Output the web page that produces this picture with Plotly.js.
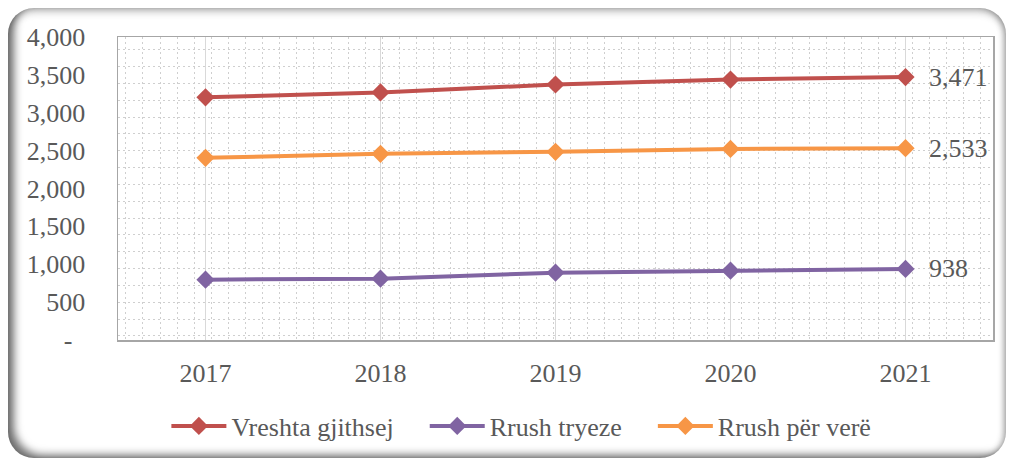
<!DOCTYPE html>
<html>
<head>
<meta charset="utf-8">
<script src="https://cdn.plot.ly/plotly-3.0.1.min.js"></script>
<style>
  html, body { margin: 0; padding: 0; background: #fff; }
  #wrap { position: relative; width: 1012px; height: 462px; overflow: hidden; }
  #frame {
    position: absolute; left: 8px; top: 8px; width: 998px; height: 450px;
    border-radius: 26px; background: #fff;
    box-shadow: inset 9px -6px 9px -3px rgba(0,0,0,0.55), inset 0 5px 8px -2px rgba(0,0,0,0.3), inset -4px 0 6px -2px rgba(0,0,0,0.3);
  }
  #plot { position: absolute; left: 0; top: 0; width: 1012px; height: 462px; }
</style>
</head>
<body>
<div id="wrap">
  <div id="frame"></div>
  <div id="plot"></div>
</div>
<script>
const years = ['2017', '2018', '2019', '2020', '2021']
const vreshta = [3203, 3268, 3373, 3438, 3471]
const rrushTryeze = [797, 810, 889, 915, 938]
const rrushVere = [2405, 2458, 2484, 2523, 2533]
const yTicks = [0, 500, 1000, 1500, 2000, 2500, 3000, 3500, 4000]
const yTickText = ['-\u00a0\u00a0', '500', '1,000', '1,500', '2,000', '2,500', '3,000', '3,500', '4,000']

const textColor = '#595959'
const serif = 'Liberation Serif'
const pad = '\u00a0\u00a0\u00a0\u00a0' // extra room between legend entries

const series = (name, values, color) => ({
  x: years,
  y: values,
  name,
  type: 'scatter',
  mode: 'lines+markers',
  line: {color, width: 4},
  marker: {symbol: 'diamond', size: 14, color},
  hoverinfo: 'none',
})

// empty trace so the dotted pattern axes get drawn
const patternTrace = {x: [], y: [], xaxis: 'x2', yaxis: 'y2', showlegend: false, hoverinfo: 'none'}

// category axis: annotations take the category index
const lastLabel = values => ({
  x: years.length - 1,
  y: values[values.length - 1],
  xref: 'x',
  yref: 'y',
  text: String(values[values.length - 1]).replace(/\B(?=(\d{3})+$)/, ','),
  showarrow: false,
  xanchor: 'left',
  xshift: 21,
  font: {family: serif, size: 26, color: textColor},
})

const vizData = [
  patternTrace,
  series('Vreshta gjithsej' + pad, vreshta, '#C0504D'),
  series('Rrush tryeze' + pad, rrushTryeze, '#8064A2'),
  series('Rrush për verë', rrushVere, '#F79646'),
]

const layout = {
  width: 1012,
  height: 462,
  margin: {l: 118, r: 19, t: 37, b: 119},
  paper_bgcolor: 'rgba(0,0,0,0)',
  plot_bgcolor: '#fff',
  font: {family: serif, size: 26, color: textColor},
  showlegend: true,
  legend: {
    orientation: 'h',
    x: 0.461,
    xanchor: 'center',
    y: -0.284,
    yanchor: 'middle',
    itemwidth: 55,
    font: {family: serif, size: 26, color: textColor},
  },
  xaxis: {
    type: 'category',
    range: [-0.5, 4.5],
    showgrid: true,
    gridcolor: '#d9d9d9',
    gridwidth: 1.5,
    showline: true,
    linecolor: '#a6a6a6',
    linewidth: 1.5,
    mirror: true,
    ticks: '',
    ticklabelstandoff: 9,
    zeroline: false,
  },
  yaxis: {
    range: [0, 4000],
    tickvals: yTicks,
    ticktext: yTickText,
    showgrid: false,
    showline: true,
    linecolor: '#a6a6a6',
    linewidth: 1.5,
    mirror: true,
    ticks: '',
    ticklabelstandoff: 26,
    zeroline: false,
  },
  xaxis2: {
    overlaying: 'x',
    anchor: 'y2',
    range: [-0.46, 50.71],
    dtick: 1,
    tick0: 0,
    showgrid: true,
    gridcolor: '#cfcfcf',
    gridwidth: 1,
    griddash: '2px,3px',
    showticklabels: false,
    zeroline: false,
    ticks: '',
  },
  yaxis2: {
    overlaying: 'y',
    anchor: 'x2',
    range: [-0.24, 17.76],
    dtick: 1,
    tick0: 0,
    showgrid: true,
    gridcolor: '#cfcfcf',
    gridwidth: 1,
    griddash: '2px,3px',
    showticklabels: false,
    zeroline: false,
    ticks: '',
  },
  annotations: [lastLabel(vreshta), lastLabel(rrushVere), lastLabel(rrushTryeze)],
}

Plotly.newPlot('plot', vizData, layout, {staticPlot: true, displayModeBar: false})
</script>
</body>
</html>
